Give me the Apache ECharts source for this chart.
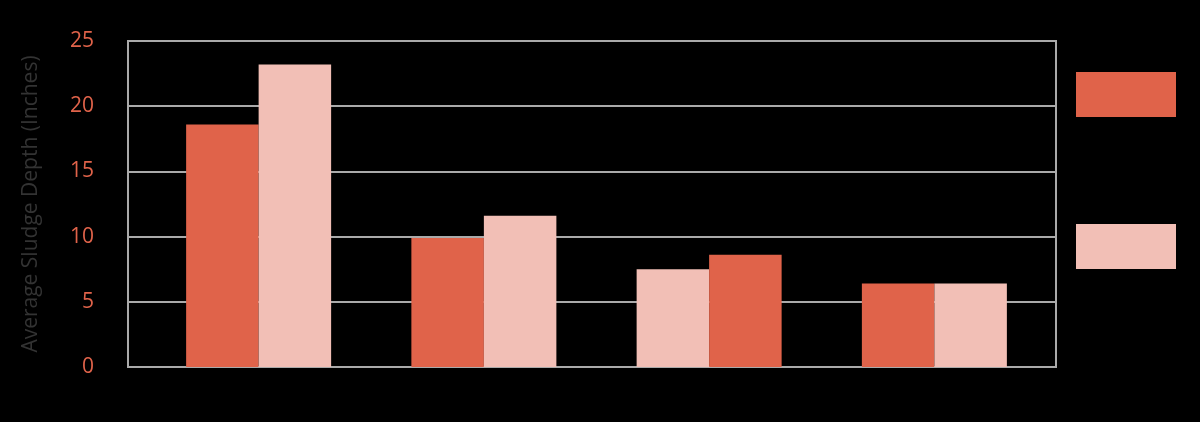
<!DOCTYPE html>
<html>
<head>
<meta charset="utf-8">
<script src="https://cdn.jsdelivr.net/npm/echarts@6/dist/echarts.min.js"></script>
<style>
  html, body { margin: 0; padding: 0; background: #000; }
  #chart { width: 1200px; height: 422px; }
</style>
</head>
<body>
<div id="chart"></div>
<script>
var categories = ["A", "B", "C", "D"];
var firstValues = [18.6, 9.9, 7.5, 6.4];
var secondValues = [23.2, 11.6, 8.6, 6.4];
var yTicks = { min: 0, max: 25, interval: 5 };

var dark = "#e0634a";
var light = "#f2bfb6";

// third group has its colours swapped in the original
var firstColors = [dark, dark, light, dark];
var secondColors = [light, light, dark, light];

var chart = echarts.init(document.getElementById("chart"));

var option = {
  backgroundColor: "#000",
  textStyle: { fontFamily: "Open Sans" },
  legend: {
    orient: "vertical",
    left: 1071,
    top: 67,
    itemWidth: 100,
    itemHeight: 45,
    itemGap: 107,
    icon: "rect",
    formatter: function () { return ""; },
    selectedMode: false
  },
  grid: [
    // frame + gridlines
    { left: 128, right: 144, top: 41, bottom: 55, show: true, borderColor: "#aaaaaa", borderWidth: 2 },
    // bars
    { left: 146, right: 153, top: 41, bottom: 55 }
  ],
  xAxis: [
    { type: "value", gridIndex: 0, show: false },
    {
      type: "category",
      gridIndex: 1,
      data: categories,
      axisLine: { show: false },
      axisTick: { show: false },
      axisLabel: { show: false }
    }
  ],
  yAxis: [
    {
      type: "value",
      gridIndex: 0,
      min: yTicks.min,
      max: yTicks.max,
      interval: yTicks.interval,
      name: "Average Sludge Depth (Inches)",
      nameLocation: "middle",
      nameGap: 86,
      nameTextStyle: { color: "#333333", fontSize: 21 },
      axisLine: { show: false },
      axisTick: { show: false },
      axisLabel: { color: dark, fontSize: 21, fontWeight: 500, margin: 34 },
      splitLine: { lineStyle: { color: "#aaaaaa", width: 2 } }
    },
    {
      type: "value",
      gridIndex: 1,
      min: yTicks.min,
      max: yTicks.max,
      show: false
    }
  ],
  series: [
    {
      name: "Series 1",
      type: "bar",
      xAxisIndex: 1,
      yAxisIndex: 1,
      barWidth: 72.5,
      barGap: "0%",
      itemStyle: { color: dark },
      data: firstValues.map(function (v, i) {
        return { value: v, itemStyle: { color: firstColors[i] } };
      })
    },
    {
      name: "Series 2",
      type: "bar",
      xAxisIndex: 1,
      yAxisIndex: 1,
      barWidth: 72.5,
      barGap: "0%",
      itemStyle: { color: light },
      data: secondValues.map(function (v, i) {
        return { value: v, itemStyle: { color: secondColors[i] } };
      })
    }
  ]
};

chart.setOption(option);
</script>
</body>
</html>
